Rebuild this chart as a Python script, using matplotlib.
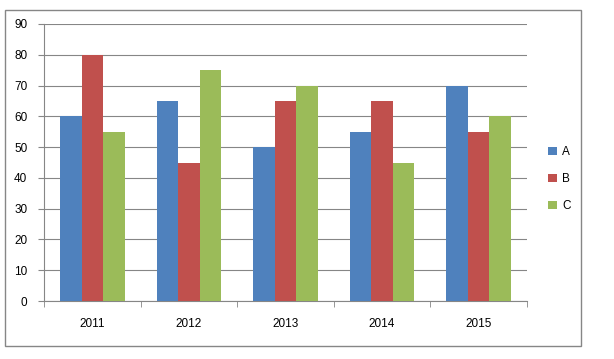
import numpy as np
import matplotlib
matplotlib.use("Agg")
import matplotlib.pyplot as plt
from matplotlib.patches import Rectangle

years = ["2011", "2012", "2013", "2014", "2015"]
series_names = ["A", "B", "C"]
a_vals = [60, 65, 50, 55, 70]
b_vals = [80, 45, 65, 65, 55]
c_vals = [55, 75, 70, 45, 60]
colors = ["#4F81BD", "#C0504D", "#9BBB59"]

plt.rcParams['font.family'] = ['Liberation Sans', 'DejaVu Sans']

W, H = 614, 359
fig = plt.figure(figsize=(W / 100, H / 100), dpi=100)
fig.patches.append(Rectangle((4.5 / W, 1 - 345.5 / H), 576 / W, 336 / H,
                             transform=fig.transFigure, fill=False,
                             edgecolor="#868686", linewidth=1.0))

ax = fig.add_axes([44 / W, 1 - 301 / H, 483 / W, 277 / H])
x = np.arange(len(years))
bw = 0.6667 / 3
for i, (vals, col, name) in enumerate(zip([a_vals, b_vals, c_vals], colors, series_names)):
    ax.bar(x + (i - 1) * bw, vals, width=bw, color=col, label=name, zorder=3)

ax.set_xlim(-0.5, len(years) - 0.5)
ax.set_ylim(0, 90)
ax.set_yticks(range(0, 91, 10))
ax.yaxis.grid(True, color="#868686", linewidth=0.8, zorder=0)
ax.set_xticks(x)
ax.set_xticklabels(years)
ax.set_xticks(np.arange(-0.5, len(years)), minor=True)
ax.tick_params(axis="x", which="major", length=0, pad=12, labelsize=8.5)
ax.tick_params(axis="x", which="minor", length=4, color="#868686", direction="out")
ax.tick_params(axis="y", length=4, color="#868686", direction="out", pad=8, labelsize=8.5)
for s in ["top", "right"]:
    ax.spines[s].set_visible(False)
for s in ["left", "bottom"]:
    ax.spines[s].set_color("#868686")
    ax.spines[s].set_linewidth(0.8)

ax.legend(loc="center left", bbox_to_anchor=(1.022, 0.44), frameon=False,
          fontsize=8.5, handlelength=0.7, handleheight=0.7, labelspacing=1.25,
          handletextpad=0.5)

fig.savefig("out.png", dpi=100)
